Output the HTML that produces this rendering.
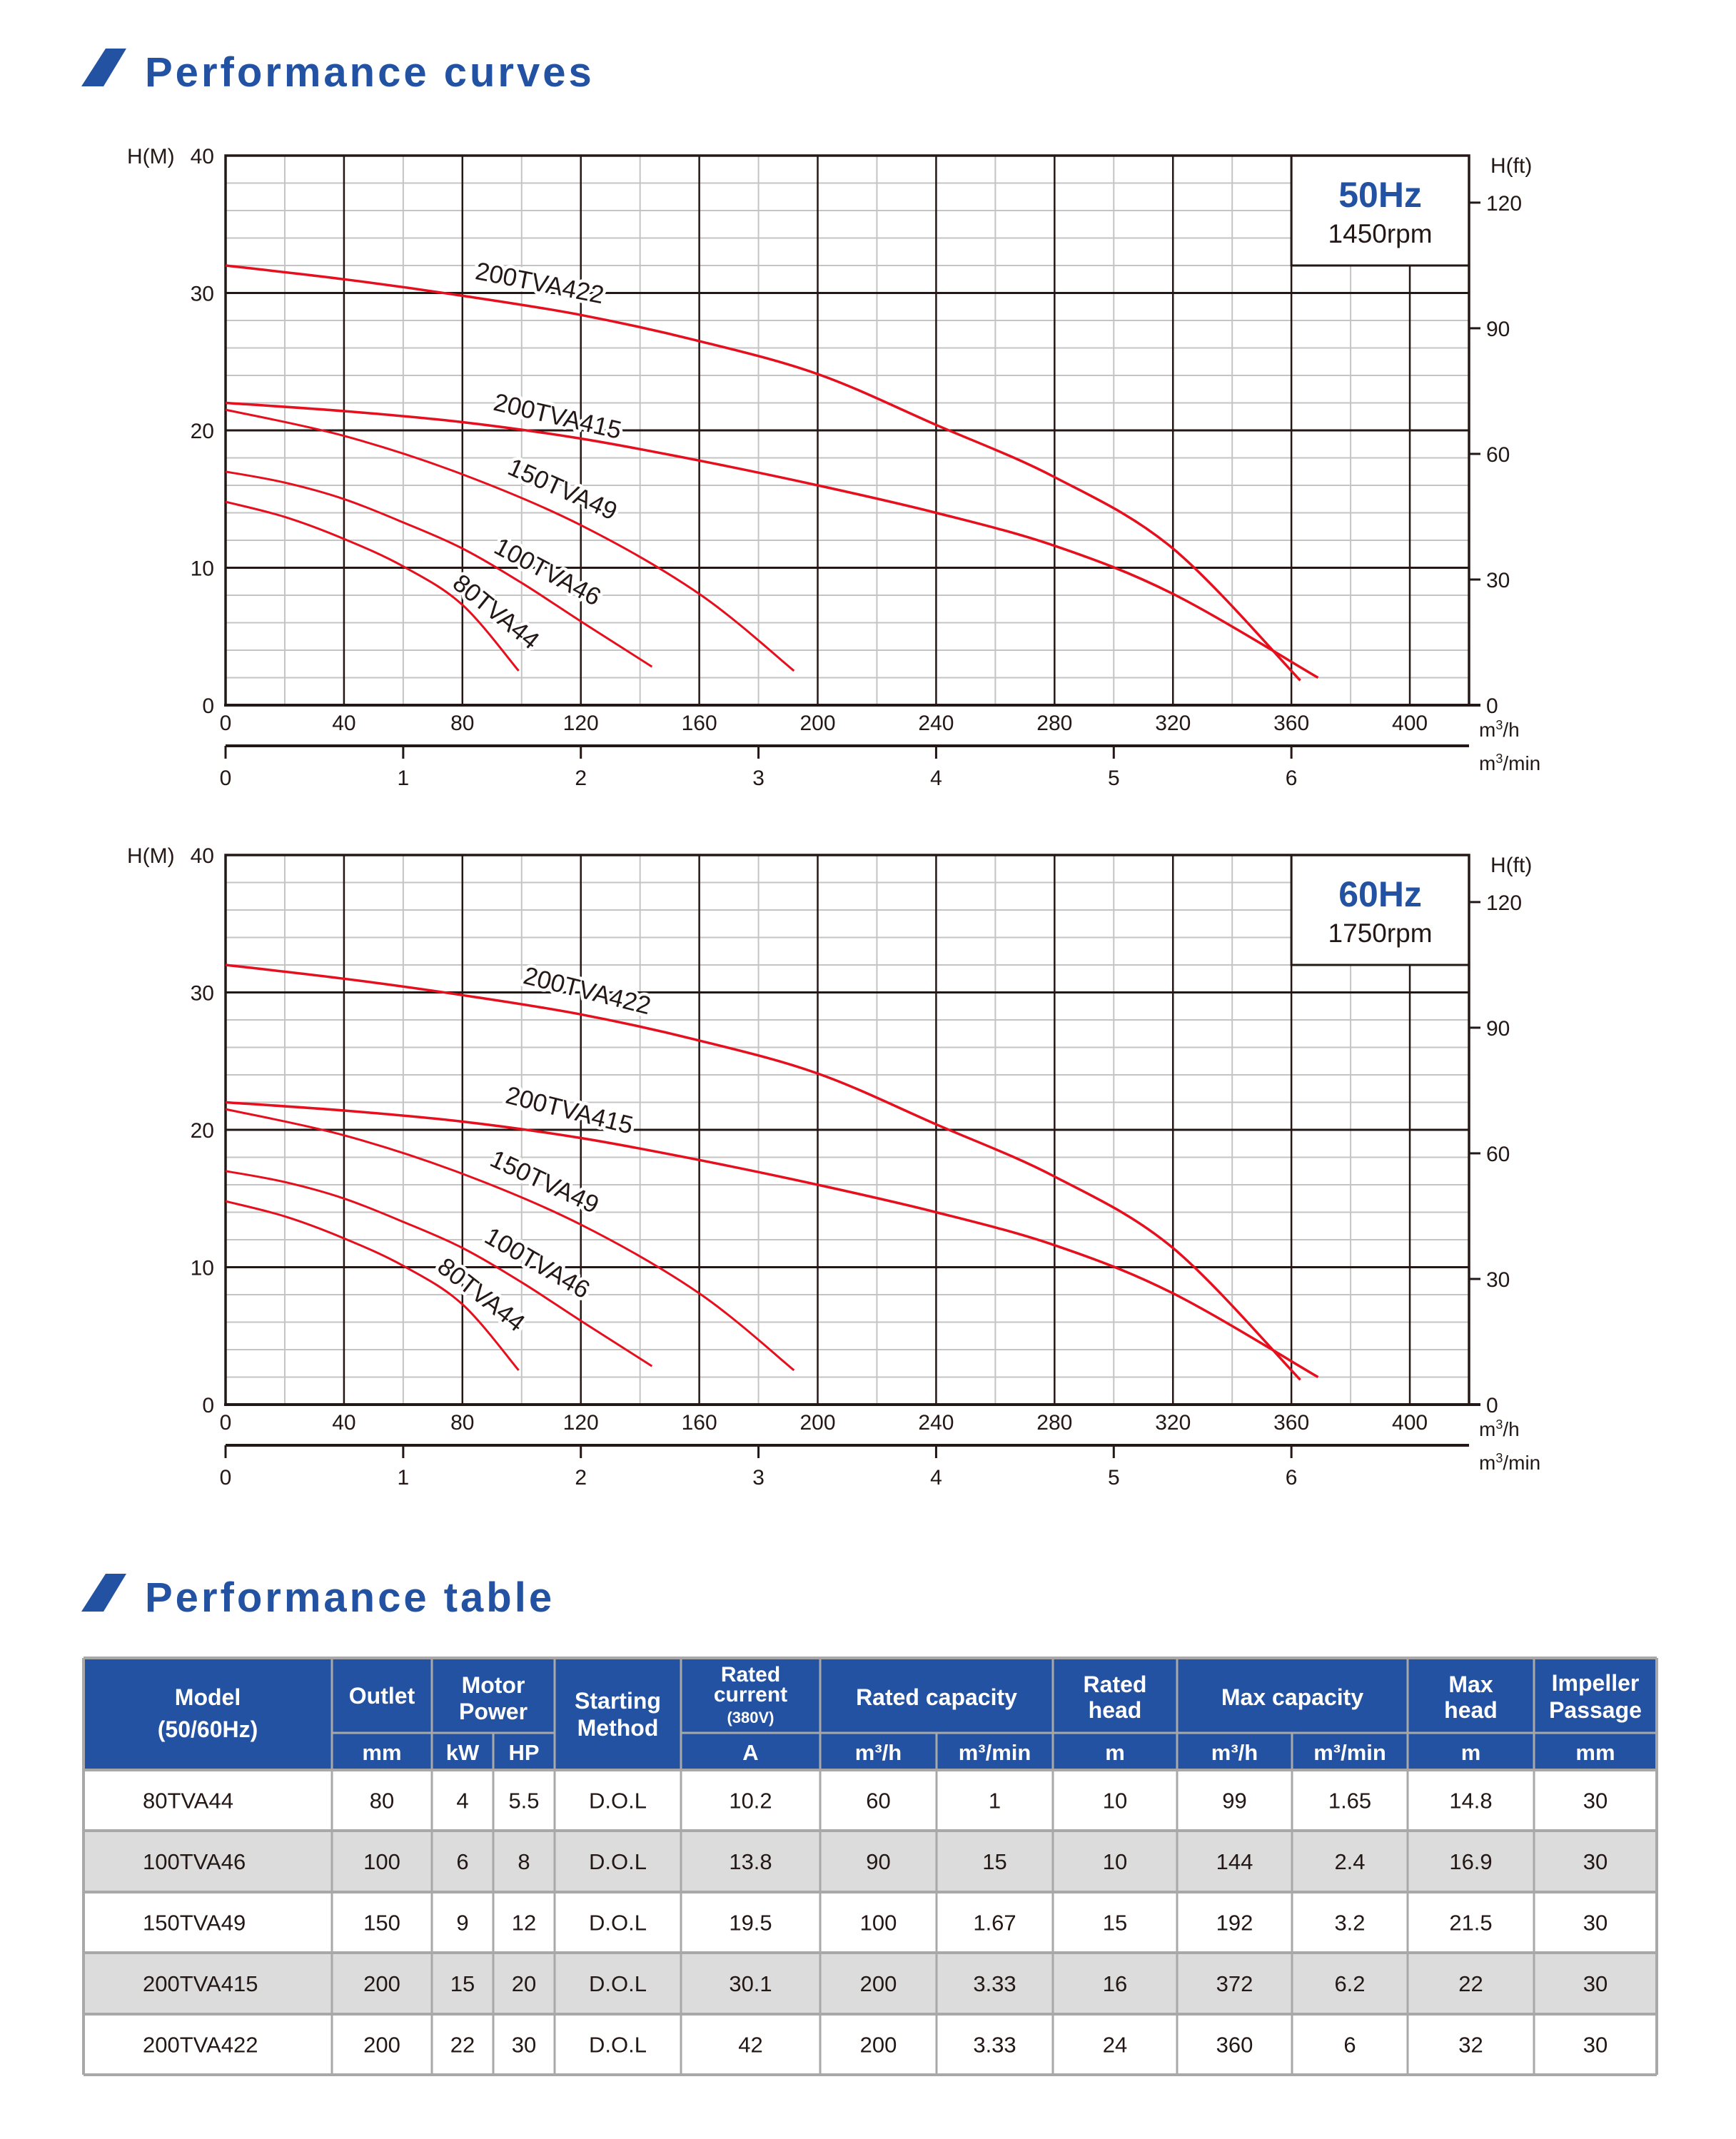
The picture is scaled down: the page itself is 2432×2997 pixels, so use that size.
<!DOCTYPE html>
<html><head><meta charset="utf-8">
<style>
html,body{margin:0;padding:0;background:#fff;}
svg{display:block;}
text{font-family:"Liberation Sans",sans-serif;}
</style></head>
<body>
<svg id="root" xmlns="http://www.w3.org/2000/svg" width="2432" height="2997" viewBox="0 0 2432 2997">
  <g>
    <polygon points="148,68 177,68 145,121 114,121" fill="#2352a3"/>
    <text x="203" y="121" font-size="58" font-weight="bold" fill="#2352a3" letter-spacing="4">Performance curves</text>
  </g>
  <g>
    <polygon points="148,2205 177,2205 145,2258 114,2258" fill="#2352a3"/>
    <text x="203" y="2258" font-size="58" font-weight="bold" fill="#2352a3" letter-spacing="4">Performance table</text>
  </g>
  <g id="charts"></g>
  <g id="table"></g>
</svg>
<script>
// ---- chart data (m3/h, m) ----
const models = ["80TVA44","100TVA46","150TVA49","200TVA415","200TVA422"];
const q80 = [0,20,40,60,80,99];
const h80 = [14.8,13.7,12.1,10.1,7.3,2.5];
const q100 = [0,20,40,60,80,100,120,144];
const h100 = [17,16.2,15,13.3,11.4,8.9,6.1,2.8];
const q150 = [0,40,80,120,160,192];
const h150 = [21.5,19.6,16.8,13.1,8.1,2.5];
const q415 = [0,40,80,120,160,200,240,280,320,369];
const h415 = [22,21.4,20.6,19.4,17.8,16,14,11.6,8.1,2];
const q422 = [0,40,80,120,160,200,240,280,320,363];
const h422 = [32,31,29.8,28.4,26.5,24.1,20.4,16.6,11.4,1.8];
const xTicks = [0,40,80,120,160,200,240,280,320,360,400];
const yTicks = [0,10,20,30,40];
const ftTicks = [0,30,60,90,120];
const minTicks = [0,1,2,3,4,5,6];
const freqs = ["50Hz","60Hz"];
const rpms = ["1450rpm","1750rpm"];

const NS = "http://www.w3.org/2000/svg";
const charts = document.getElementById('charts');
function mk(tag, attrs, parent, txt){
  const e = document.createElementNS(NS, tag);
  for (const k in attrs) e.setAttribute(k, attrs[k]);
  if (txt !== undefined) e.textContent = txt;
  parent.appendChild(e); return e;
}
const L = 316, R = 2058, PXQ = (2058-316)/420, PXH = 19.25;
const labelCfg = [
  [[91,6.7,39],[108.5,9.6,28],[113.6,15.6,24],[112,20.9,13],[106,30.6,11]],
  [[86,7.9,38],[105,10.2,30],[107.5,16.1,25],[116,21.3,14],[122,30.0,14]]
];
function smoothPath(pts){
  let d = "M" + pts[0][0].toFixed(1) + "," + pts[0][1].toFixed(1);
  for (let i=0;i<pts.length-1;i++){
    const p0 = pts[Math.max(0,i-1)], p1 = pts[i], p2 = pts[i+1], p3 = pts[Math.min(pts.length-1,i+2)];
    const c1 = [p1[0]+(p2[0]-p0[0])/6, p1[1]+(p2[1]-p0[1])/6];
    const c2 = [p2[0]-(p3[0]-p1[0])/6, p2[1]-(p3[1]-p1[1])/6];
    d += " C"+c1[0].toFixed(1)+","+c1[1].toFixed(1)+" "+c2[0].toFixed(1)+","+c2[1].toFixed(1)+" "+p2[0].toFixed(1)+","+p2[1].toFixed(1);
  }
  return d;
}
function drawChart(idx, top){
  const bottom = top + 40*PXH;
  const X = q => L + q*PXQ;
  const Y = h => bottom - h*PXH;
  const g = mk('g', {}, charts);
  
  
  for (let q=20;q<420;q+=40){
    const ln = mk('line',{x1:X(q),x2:X(q),y1:top,y2:bottom,stroke:'#c4c4c4','stroke-width':2},g);
    
    
  }
  for (let h=2;h<40;h+=2){ if (h%10===0) continue;
    const ln = mk('line',{x1:L,x2:R,y1:Y(h),y2:Y(h),stroke:'#c4c4c4','stroke-width':2},g);
    
    
  }
  xTicks.forEach(q=>{ if(q===0) return;
    const ln = mk('line',{x1:X(q),x2:X(q),y1:top,y2:bottom,stroke:'#231815','stroke-width':2.5},g);
    
    
  });
  yTicks.forEach(h=>{ if(h===0||h===40) return;
    const ln = mk('line',{x1:L,x2:R,y1:Y(h),y2:Y(h),stroke:'#231815','stroke-width':3},g);
    
    
  });
  const bx = mk('rect',{x:X(360),y:top,width:R-X(360),height:Y(32)-top,fill:'#fff',stroke:'#231815','stroke-width':3},g);
  
  
  const ft = mk('text',{x:(X(360)+R)/2,y:top+72,'font-size':50,'font-weight':'bold',fill:'#2352a3','text-anchor':'middle'},g,freqs[idx]);
  
  
  const rt = mk('text',{x:(X(360)+R)/2,y:top+122,'font-size':37,fill:'#231815','text-anchor':'middle'},g,rpms[idx]);
  
  
  const fr = mk('path',{d:`M${L},${bottom} L${L},${top} L${R},${top} L${R},${bottom}`,fill:'none',stroke:'#231815','stroke-width':3.5},g);
  
  
  const xa = mk('line',{x1:L-2,x2:R+16,y1:bottom,y2:bottom,stroke:'#231815','stroke-width':4},g);
  
  
  yTicks.forEach(h=>{
    const t = mk('text',{x:300,y:Y(h)+11,'font-size':30,fill:'#231815','text-anchor':'end'},g,String(h));
    
    
  });
  const hm = mk('text',{x:178,y:top+11,'font-size':30,fill:'#231815'},g,'H(M)');
  
  
  ftTicks.forEach(f=>{
    const yy = Y(f/3.2808);
    const tk = mk('line',{x1:R,x2:R+16,y1:yy,y2:yy,stroke:'#231815','stroke-width':3},g);
    
    
    const t = mk('text',{x:R+24,y:yy+11,'font-size':30,fill:'#231815'},g,String(f));
    
    
  });
  const hf = mk('text',{x:R+30,y:top+24,'font-size':30,fill:'#231815'},g,'H(ft)');
  
  
  xTicks.forEach(q=>{
    const t = mk('text',{x:X(q),y:bottom+35,'font-size':30,fill:'#231815','text-anchor':'middle'},g,String(q));
    
    
  });
  const u1 = mk('text',{x:R+14,y:bottom+44,'font-size':28,fill:'#231815'},g);
  u1.innerHTML = 'm<tspan baseline-shift="super" font-size="18">3</tspan>/h';
  
  
  const ay = bottom + 57;
  const sa = mk('line',{x1:L,x2:R,y1:ay,y2:ay,stroke:'#231815','stroke-width':4},g);
  
  
  minTicks.forEach(m=>{
    const xx = X(m*60);
    const tk = mk('line',{x1:xx,x2:xx,y1:ay,y2:ay+18,stroke:'#231815','stroke-width':3},g);
    
    
    const t = mk('text',{x:xx,y:ay+55,'font-size':30,fill:'#231815','text-anchor':'middle'},g,String(m));
    
    
  });
  const u2 = mk('text',{x:R+14,y:ay+34,'font-size':28,fill:'#231815'},g);
  u2.innerHTML = 'm<tspan baseline-shift="super" font-size="18">3</tspan>/min';
  
  
  const series = [[q80,h80],[q100,h100],[q150,h150],[q415,h415],[q422,h422]];
  series.forEach((s,i)=>{
    const pts = s[0].map((q,j)=>[X(q),Y(s[1][j])]);
    const p = mk('path',{d:smoothPath(pts),fill:'none',stroke:'#e60f1e','stroke-width':i>=3?3.5:3},g);
    
    
  });
  labelCfg[idx].forEach((c,i)=>{
    const t = mk('text',{x:X(c[0]),y:Y(c[1]),'font-size':35,fill:'#231815','text-anchor':'middle','dominant-baseline':'middle',
      transform:`rotate(${c[2]} ${X(c[0])} ${Y(c[1])})`,stroke:'#fff','stroke-width':9,'paint-order':'stroke','stroke-linejoin':'round'},g,models[i]);
    
    
  });
}
drawChart(0, 218);
drawChart(1, 1198);

// ---- table ----
const tbl = document.getElementById('table');
const colX = [117,465,605,691,777,954,1149,1312,1475,1649,1810,1972,2149,2321];
const rowY = [2323,2428,2480,2565,2651,2736,2822,2907];
const tblRows = [
  ["80TVA44","80","4","5.5","D.O.L","10.2","60","1","10","99","1.65","14.8","30"],
  ["100TVA46","100","6","8","D.O.L","13.8","90","15","10","144","2.4","16.9","30"],
  ["150TVA49","150","9","12","D.O.L","19.5","100","1.67","15","192","3.2","21.5","30"],
  ["200TVA415","200","15","20","D.O.L","30.1","200","3.33","16","372","6.2","22","30"],
  ["200TVA422","200","22","30","D.O.L","42","200","3.33","24","360","6","32","30"]
];
const blue = '#2352a3', gridc = '#a8a8a8';
const hb = mk('rect',{x:colX[0],y:rowY[0],width:colX[13]-colX[0],height:rowY[2]-rowY[0],fill:blue},tbl);


tblRows.forEach((r,i)=>{
  const y0 = rowY[2+i], y1 = rowY[3+i];
  const bg = mk('rect',{x:colX[0],y:y0,width:colX[13]-colX[0],height:y1-y0,fill:i%2?'#dcdcdc':'#fff'},tbl);
  
  
  r.forEach((v,j)=>{
    const cx = j===0 ? 200 : (colX[j]+colX[j+1])/2;
    const t = mk('text',{x:cx,y:(y0+y1)/2+11,'font-size':31,fill:'#231815','text-anchor':j===0?'start':'middle'},tbl,v);
    
    
  });
});
function gl(x1,y1,x2,y2,c,w){
  const l = mk('line',{x1,y1,x2,y2,stroke:c,'stroke-width':w},tbl);
  
  
}
for (let i=2;i<rowY.length;i++) gl(colX[0],rowY[i],colX[13],rowY[i],gridc,4);
gl(colX[0],rowY[0],colX[13],rowY[0],gridc,4);
const topDiv = [1,2,4,5,6,8,9,11,12];
colX.forEach((x,i)=>{
  if (i===0||i===13){ gl(x,rowY[0],x,rowY[7],gridc,4); return; }
  const y0 = topDiv.includes(i) ? rowY[0] : rowY[1];
  gl(x,y0,x,rowY[7],gridc,3);
});
gl(colX[1],rowY[1],colX[4],rowY[1],gridc,3);
gl(colX[5],rowY[1],colX[13],rowY[1],gridc,3);
function ht(x,y,s,fs){
  const t = mk('text',{x,y,'font-size':fs||32,'font-weight':'bold',fill:'#fff','text-anchor':'middle'},tbl,s);
  
  
  return t;
}
const cm = i => (colX[i]+colX[i+1])/2;
ht(cm(0),2389,'Model'); ht(cm(0),2434,'(50/60Hz)');
ht(cm(1),2387,'Outlet');
ht((colX[2]+colX[4])/2,2372,'Motor'); ht((colX[2]+colX[4])/2,2409,'Power');
ht(cm(4),2394,'Starting'); ht(cm(4),2432,'Method');
ht(cm(5),2356,'Rated',30); ht(cm(5),2384,'current',30); ht(cm(5),2414,'(380V)',22);
ht((colX[6]+colX[8])/2,2389,'Rated capacity');
ht(cm(8),2371,'Rated'); ht(cm(8),2407,'head');
ht((colX[9]+colX[11])/2,2389,'Max capacity');
ht(cm(11),2371,'Max'); ht(cm(11),2407,'head');
ht(cm(12),2369,'Impeller'); ht(cm(12),2407,'Passage');
const units = [null,'mm','kW','HP',null,'A','m³/h','m³/min','m','m³/h','m³/min','m','mm'];
units.forEach((u,i)=>{ if(u) ht(cm(i),2466,u,31); });
</script>
</body></html>
